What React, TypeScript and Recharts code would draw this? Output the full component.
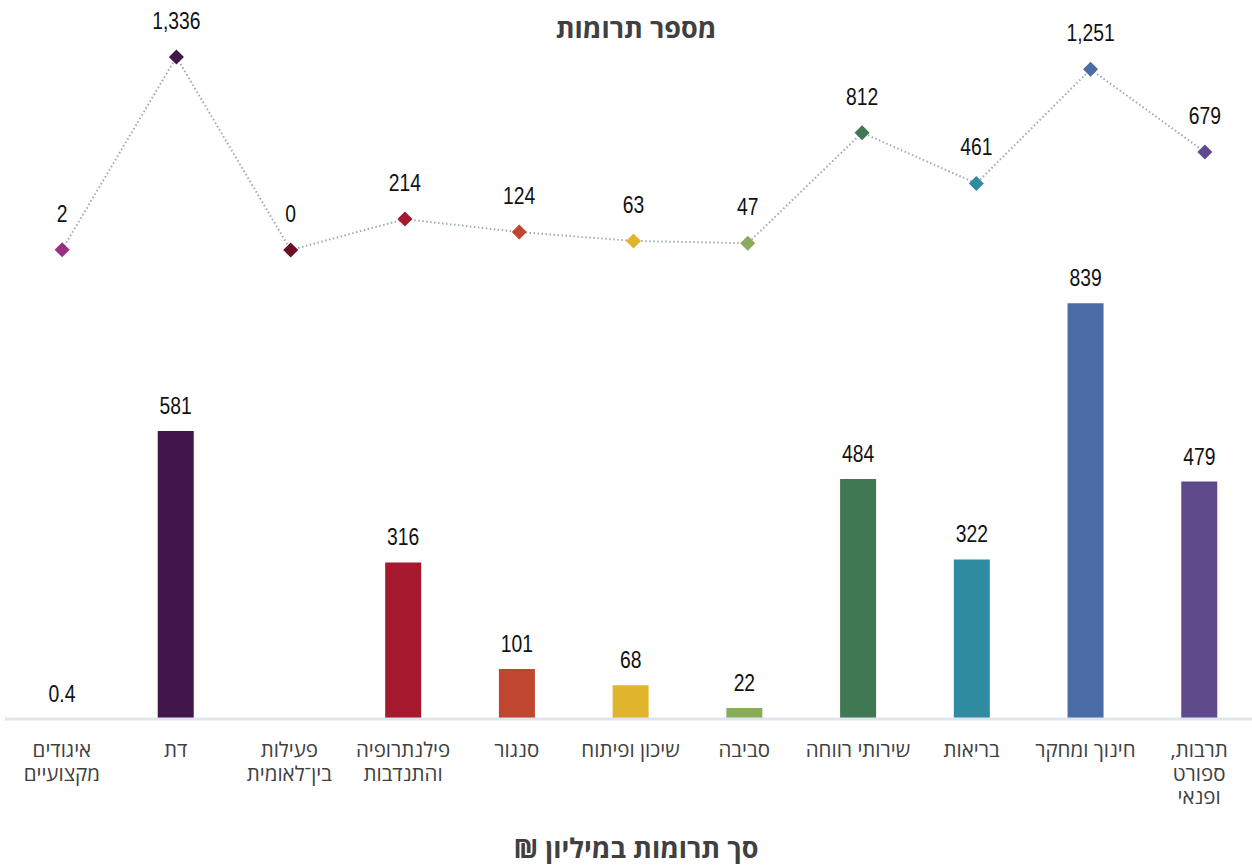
import React from 'react';
import { ComposedChart, Bar, Line, XAxis, YAxis, Cell, LabelList } from 'recharts';

const categories = [
  'איגודים מקצועיים',
  'דת',
  'פעילות בין־לאומית',
  'פילנתרופיה והתנדבות',
  'סנגור',
  'שיכון ופיתוח',
  'סביבה',
  'שירותי רווחה',
  'בריאות',
  'חינוך ומחקר',
  'תרבות, ספורט ופנאי',
];

const tickLines = [
  ['איגודים', 'מקצועיים'],
  ['דת'],
  ['פעילות', 'בין־לאומית'],
  ['פילנתרופיה', 'והתנדבות'],
  ['סנגור'],
  ['שיכון ופיתוח'],
  ['סביבה'],
  ['שירותי רווחה'],
  ['בריאות'],
  ['חינוך ומחקר'],
  ['תרבות,', 'ספורט', 'ופנאי'],
];

// סך תרומות במיליון ₪
const amounts = [0.4, 581, 0, 316, 101, 68, 22, 484, 322, 839, 479];
// מספר תרומות
const counts = [2, 1336, 0, 214, 124, 63, 47, 812, 461, 1251, 679];

const colors = [
  '#9a2f82',
  '#42164a',
  '#6a1024',
  '#a6192e',
  '#c0462f',
  '#e0b42c',
  '#89ac5a',
  '#407853',
  '#2f8ca0',
  '#4b6ba6',
  '#5f4a8b',
];

const data = categories.map((name, i) => ({ name, amount: amounts[i], count: counts[i] }));

const numFont = "'Liberation Sans', Arial, sans-serif";
const hebFont = "'Open Sans', 'Liberation Sans', 'DejaVu Sans', sans-serif";

const CategoryTick = (props: any) => {
  const { x, y, payload } = props;
  const lines = tickLines[payload.index] || [payload.value];
  return (
    <text x={x} y={y} textAnchor="middle" fill="#404040" fontSize={20.5} fontFamily={hebFont} direction="rtl">
      {lines.map((l: string, i: number) => (
        <tspan key={i} x={x} dy={i === 0 ? 38 : 23.5}>
          {l}
        </tspan>
      ))}
    </text>
  );
};

const Diamond = (props: any) => {
  const { cx, cy, index } = props;
  if (cx == null || cy == null) return null;
  const r = 7.5;
  return (
    <polygon
      key={`d-${index}`}
      points={`${cx},${cy - r} ${cx + r},${cy} ${cx},${cy + r} ${cx - r},${cy}`}
      fill={colors[index]}
    />
  );
};

const NarrowText = ({ x, y, children }: any) => (
  <text
    transform={`translate(${x},${y}) scale(0.84,1)`}
    x={0}
    y={0}
    textAnchor="middle"
    fill="#111"
    fontSize={23}
    fontFamily={numFont}
  >
    {children}
  </text>
);

const LineLabel = (props: any) => {
  const { x, y, value } = props;
  return <NarrowText x={x} y={y - 28}>{Number(value).toLocaleString('en-US')}</NarrowText>;
};

const BarLabel = (props: any) => {
  const { x, y, width, value } = props;
  return <NarrowText x={x + width / 2} y={y - 17}>{String(value)}</NarrowText>;
};

const titleStyle: React.CSSProperties = {
  position: 'absolute',
  left: 0,
  width: 1272,
  textAlign: 'center',
  fontFamily: hebFont,
  fontWeight: 700,
  fontSize: 27,
  lineHeight: '32px',
  color: '#404040',
  direction: 'rtl',
};

export default function App() {
  return (
    <div style={{ position: 'absolute', left: 0, top: 0, width: 1252, height: 865, overflow: 'hidden', background: '#fff' }}>
      <ComposedChart width={1262} height={865} data={data} margin={{ top: 40, right: 0, left: 5, bottom: 46 }}>
        <XAxis
          xAxisId="bar"
          dataKey="name"
          interval={0}
          tickLine={false}
          tickSize={0}
          tickMargin={0}
          height={100}
          axisLine={{ stroke: '#dfe5ee', strokeWidth: 3 }}
          tick={<CategoryTick />}
          padding={{ left: 0, right: 6 }}
        />
        <XAxis xAxisId="line" dataKey="name" hide />
        <YAxis yAxisId="amount" hide type="number" domain={[0, 1370]} allowDataOverflow />
        <YAxis yAxisId="count" hide type="number" domain={[-3247, 1454]} allowDataOverflow />
        <Bar xAxisId="bar" yAxisId="amount" dataKey="amount" barSize={36} isAnimationActive={false}>
          {data.map((d, i) => (
            <Cell key={i} fill={colors[i]} />
          ))}
          <LabelList dataKey="amount" content={<BarLabel />} />
        </Bar>
        <Line
          xAxisId="line"
          yAxisId="count"
          dataKey="count"
          stroke="#a0aab6"
          strokeWidth={2}
          strokeDasharray="1.5 2.5"
          dot={<Diamond />}
          activeDot={false}
          isAnimationActive={false}
        >
          <LabelList dataKey="count" content={<LineLabel />} />
        </Line>
      </ComposedChart>
      <div style={{ ...titleStyle, top: 12 }}>מספר תרומות</div>
      <div style={{ ...titleStyle, top: 832 }}>סך תרומות במיליון ₪</div>
    </div>
  );
}
